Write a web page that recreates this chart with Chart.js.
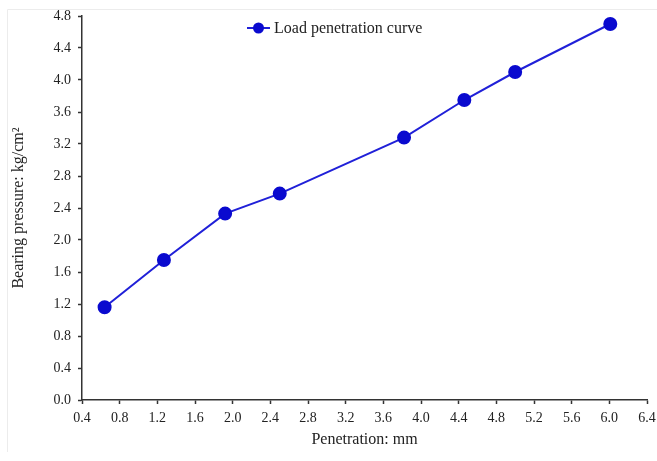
<!DOCTYPE html>
<html>
<head>
<meta charset="utf-8">
<script src="https://cdn.jsdelivr.net/npm/chart.js@4.4.0/dist/chart.umd.min.js"></script>
<style>
  html, body { margin: 0; padding: 0; background: #fff; }
  #wrap { width: 657px; height: 461px; position: relative; }
</style>
</head>
<body>
<div id="wrap"><canvas id="chart"></canvas></div>
<script>
// data
const penetration = [0.64, 1.27, 1.92, 2.5, 3.82, 4.46, 5.0, 6.01];
const pressure = [1.16, 1.75, 2.33, 2.58, 3.28, 3.75, 4.10, 4.70];
const xTicks = [0.4, 0.8, 1.2, 1.6, 2.0, 2.4, 2.8, 3.2, 3.6, 4.0, 4.4, 4.8, 5.2, 5.6, 6.0, 6.4];
const yTicks = [0.0, 0.4, 0.8, 1.2, 1.6, 2.0, 2.4, 2.8, 3.2, 3.6, 4.0, 4.4, 4.8];
const seriesLabel = 'Load penetration curve';

const serif = "'Liberation Serif', 'DejaVu Serif', serif";
const blue = '#0A0ACF';

// faint frame round the figure, top and left edges only as in the scan
const frame = {
  id: 'frame',
  beforeDraw(chart) {
    const ctx = chart.ctx;
    ctx.save();
    ctx.strokeStyle = '#ececec';
    ctx.lineWidth = 1;
    ctx.beginPath();
    ctx.moveTo(7.5, 452);
    ctx.lineTo(7.5, 9.5);
    ctx.lineTo(657, 9.5);
    ctx.stroke();
    ctx.restore();
  }
};

// legend drawn inside plot area, line through a dot like the original
const insideLegend = {
  id: 'insideLegend',
  afterDraw(chart) {
    const ctx = chart.ctx;
    const ds = chart.data.datasets[0];
    const y = 28;
    ctx.save();
    ctx.strokeStyle = ds.borderColor;
    ctx.lineWidth = 2;
    ctx.beginPath();
    ctx.moveTo(247, y);
    ctx.lineTo(270, y);
    ctx.stroke();
    ctx.fillStyle = ds.pointBackgroundColor;
    ctx.beginPath();
    ctx.arc(258.5, y, 5.5, 0, Math.PI * 2);
    ctx.fill();
    ctx.fillStyle = '#222';
    ctx.font = '16px ' + serif;
    ctx.textBaseline = 'middle';
    ctx.fillText(ds.label, 274, y + 1);
    ctx.restore();
  }
};

new Chart(document.getElementById('chart'), {
  type: 'scatter',
  data: {
    datasets: [{
      label: seriesLabel,
      data: penetration.map((x, i) => ({ x: x, y: pressure[i] })),
      showLine: true,
      borderColor: '#2020D8',
      borderWidth: 2,
      pointBackgroundColor: blue,
      pointBorderColor: blue,
      pointRadius: 6,
      pointHoverRadius: 6
    }]
  },
  options: {
    responsive: true,
    maintainAspectRatio: false,
    animation: false,
    layout: { padding: { top: 16, right: 2, bottom: 12, left: 9 } },
    plugins: {
      legend: { display: false },
      tooltip: { enabled: false }
    },
    scales: {
      x: {
        type: 'linear',
        min: 0.4,
        max: 6.4,
        afterBuildTicks: axis => { axis.ticks = xTicks.map(v => ({ value: v })); },
        afterFit: axis => { axis.height = 49; axis.paddingRight = 10; },
        grid: { drawOnChartArea: false, drawTicks: true, tickLength: 4, tickColor: '#333', tickWidth: 1.5 },
        border: { display: true, color: '#333', width: 1.5 },
        ticks: {
          color: '#222',
          font: { family: serif, size: 14 },
          padding: 6,
          maxRotation: 0,
          autoSkip: false,
          callback: v => Number(v).toFixed(1)
        },
        title: {
          display: true,
          text: 'Penetration: mm',
          color: '#222',
          font: { family: serif, size: 16 },
          padding: { top: 2, bottom: 0 }
        }
      },
      y: {
        type: 'linear',
        min: 0,
        max: 4.8,
        afterBuildTicks: axis => { axis.ticks = yTicks.map(v => ({ value: v })); },
        afterFit: axis => { axis.width = 73; },
        grid: { drawOnChartArea: false, drawTicks: true, tickLength: 4, tickColor: '#333', tickWidth: 1.5 },
        border: { display: true, color: '#333', width: 1.5 },
        ticks: {
          color: '#222',
          font: { family: serif, size: 14 },
          padding: 7,
          autoSkip: false,
          callback: v => Number(v).toFixed(1)
        },
        title: {
          display: true,
          text: 'Bearing pressure: kg/cm²',
          color: '#222',
          font: { family: serif, size: 16 },
          padding: { top: 0, bottom: 2 }
        }
      }
    }
  },
  plugins: [frame, insideLegend]
});
</script>
</body>
</html>
